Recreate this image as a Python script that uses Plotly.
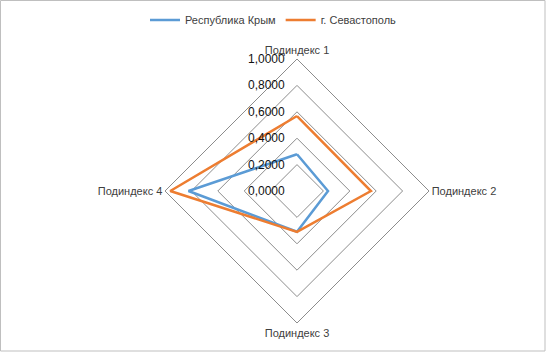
import plotly.graph_objects as go

categories = ["Подиндекс 1", "Подиндекс 2", "Подиндекс 3", "Подиндекс 4"]
crimea = [0.278, 0.235, 0.308, 0.822]
sevastopol = [0.568, 0.56, 0.31, 0.96]
series_names = ["Республика Крым", "г. Севастополь"]
tick_vals = [0, 0.2, 0.4, 0.6, 0.8, 1.0]
tick_text = ["0,0000", "0,2000", "0,4000", "0,6000", "0,8000", "1,0000"]

W, H = 547, 353
fig = go.Figure()
for name, vals, col in [(series_names[0], crimea, "#5B9BD5"), (series_names[1], sevastopol, "#ED7D31")]:
    fig.add_trace(go.Scatterpolar(
        r=vals + vals[:1], theta=categories + categories[:1],
        mode="lines", name=name, line=dict(color=col, width=2.5),
    ))

pad = "\u00a0" * 3
cx, cy, R = 297, 191, 132
fig.update_layout(
    width=W, height=H,
    margin=dict(l=0, r=0, t=0, b=0),
    paper_bgcolor="white", plot_bgcolor="white",
    font=dict(family="Liberation Sans, Arial", size=11, color="#404040"),
    showlegend=True,
    legend=dict(orientation="h", x=0.5, xanchor="center", y=1 - 20 / H, yanchor="middle",
                font=dict(size=11, color="#404040"), itemwidth=30),
    polar=dict(
        domain=dict(x=[(cx - R) / W, (cx + R) / W], y=[1 - (cy + R) / H, 1 - (cy - R) / H]),
        bgcolor="white",
        gridshape="linear",
        radialaxis=dict(range=[0, 1], tickvals=tick_vals, ticktext=[t + pad for t in tick_text],
                        showline=False, ticks="", angle=90, side="counterclockwise",
                        tickangle=90,
                        gridcolor="#8c8c8c", gridwidth=1,
                        tickfont=dict(size=12, color="#111", family="Liberation Sans, Arial")),
        angularaxis=dict(direction="clockwise", rotation=90, showgrid=False,
                         showline=True, linecolor="#8c8c8c", linewidth=1, ticks="",
                         tickfont=dict(size=11, color="#404040")),
    ),
    shapes=[dict(type="rect", xref="paper", yref="paper", x0=0.5 / W, x1=1 - 2 / W,
                 y0=2 / H, y1=1 - 0.5 / H, line=dict(color="#bfbfbf", width=1))],
)
fig.write_html("out.html")
